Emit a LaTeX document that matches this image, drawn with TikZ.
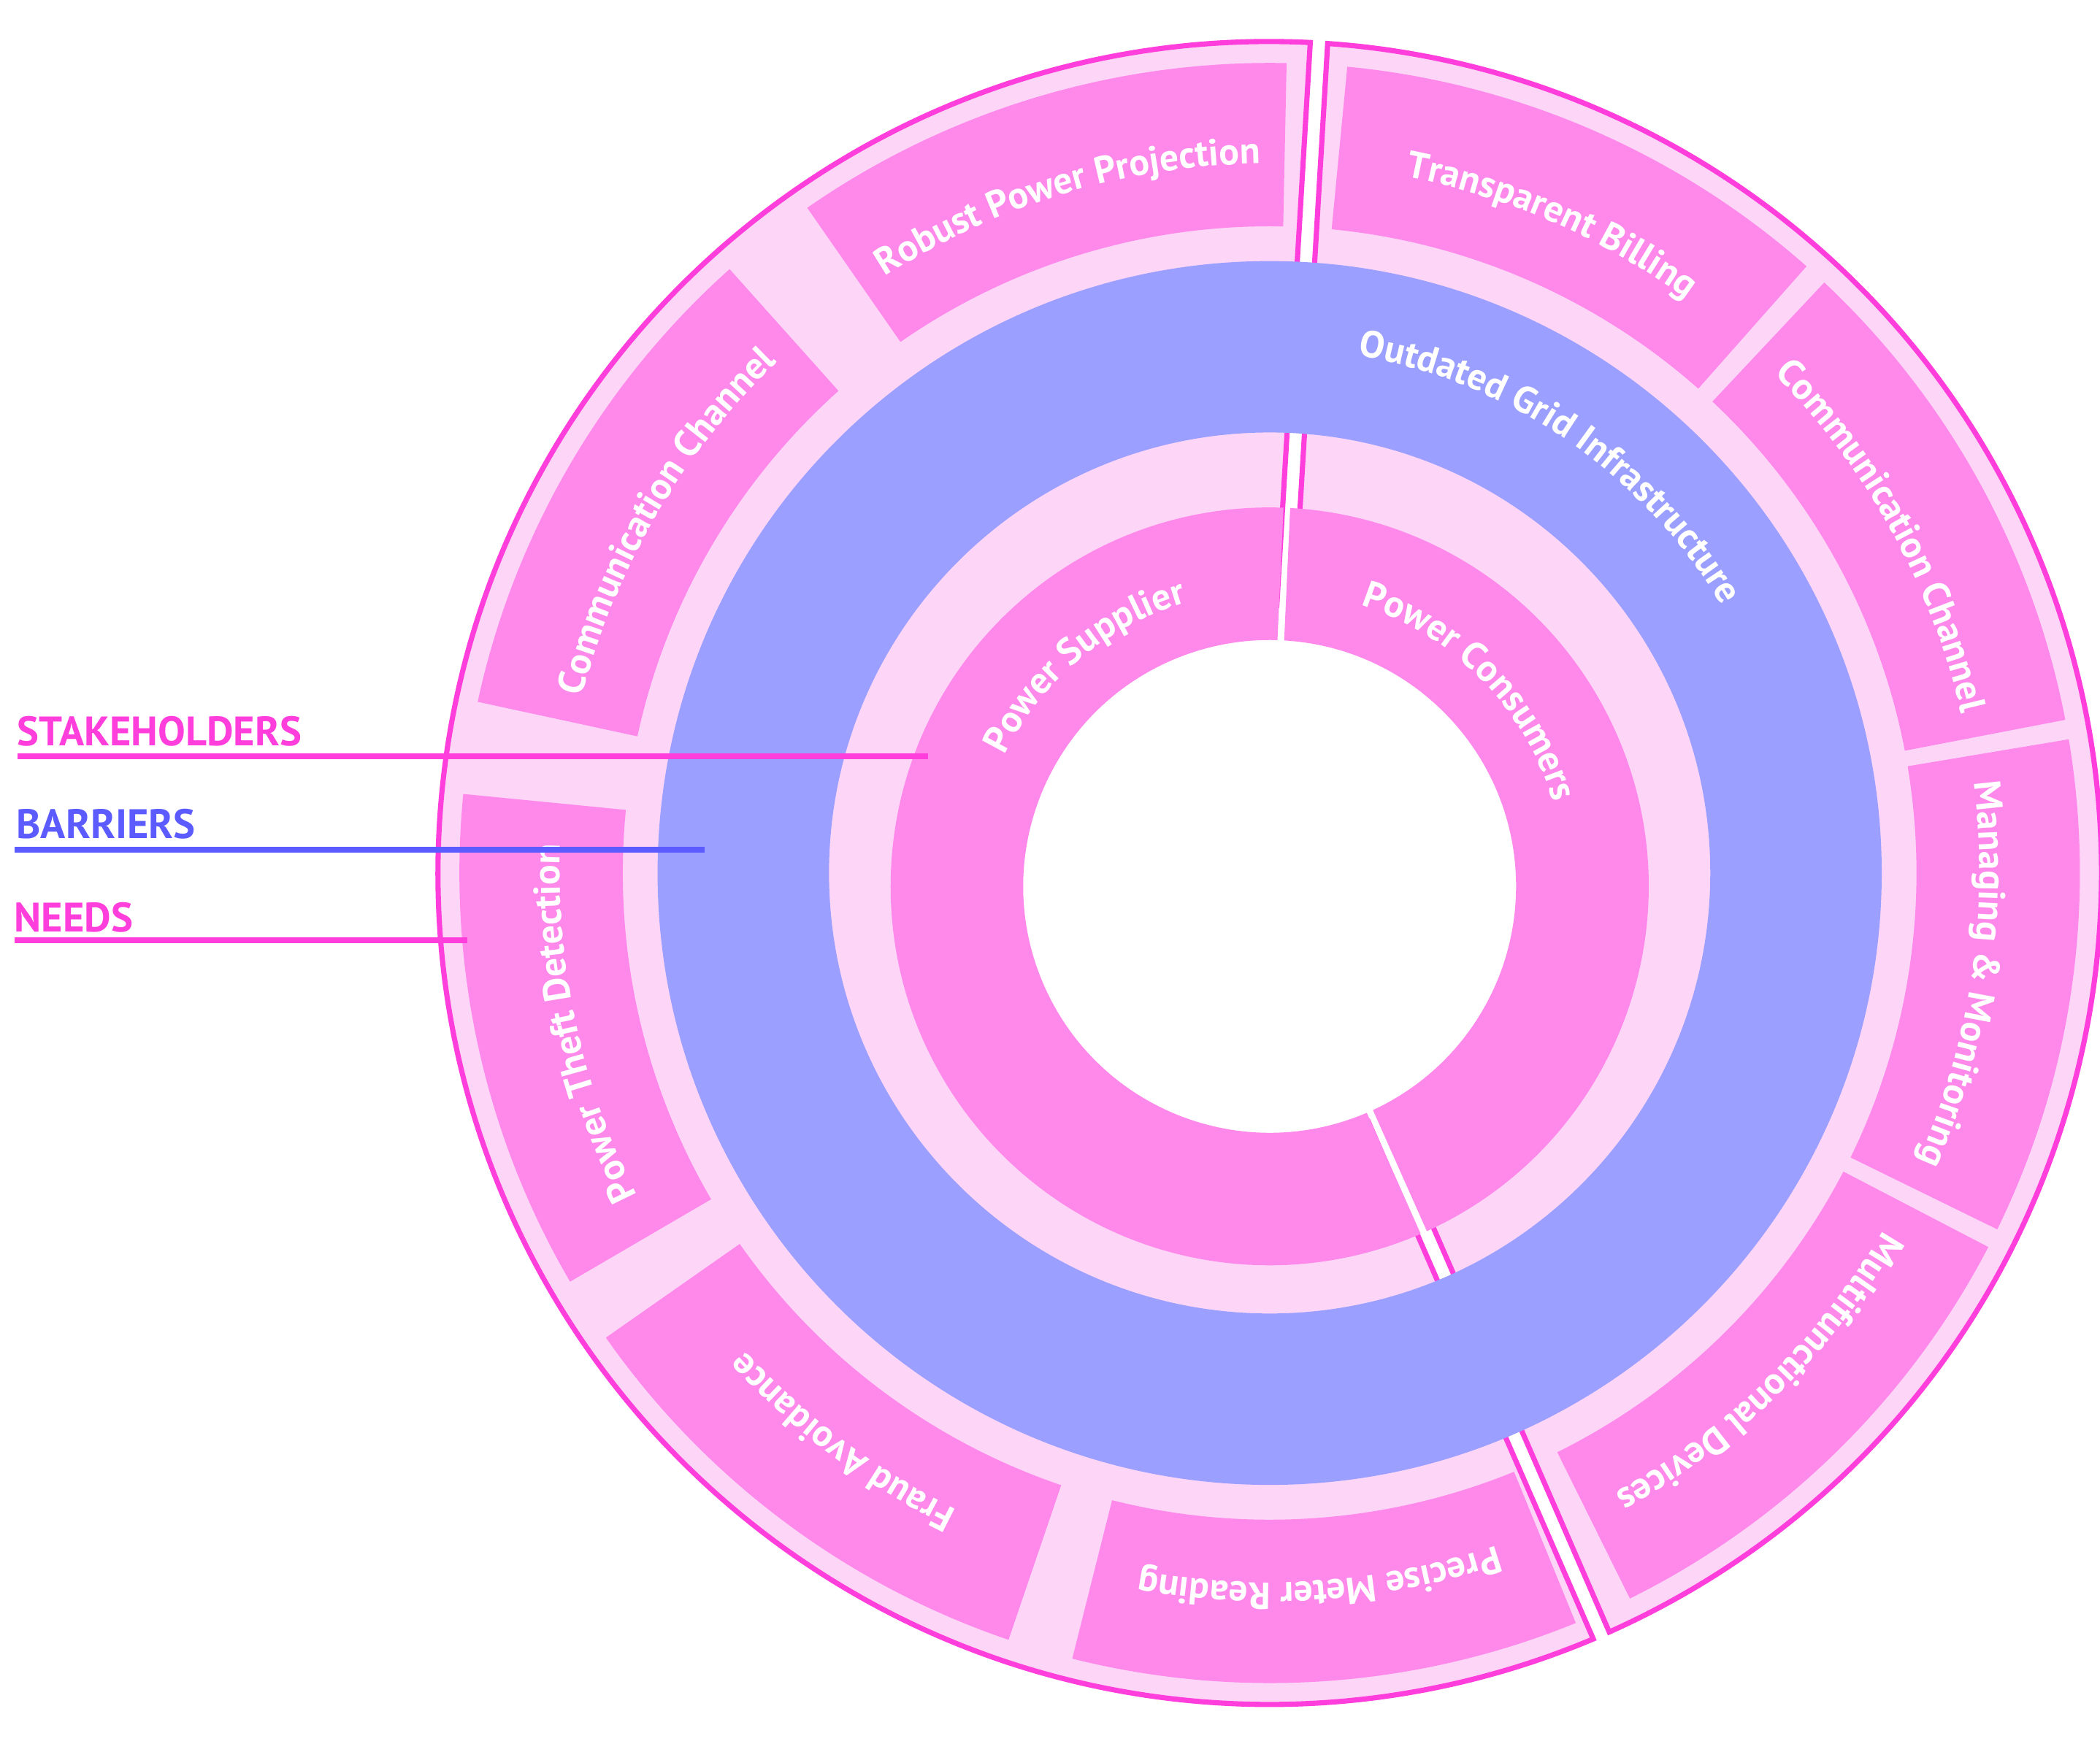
\documentclass[tikz,border=0pt]{standalone}
\usepackage{fontspec}
\setmainfont{PT Sans}
\usetikzlibrary{decorations.text}

\definecolor{framemagenta}{HTML}{FF3EDC}
\definecolor{needpink}{HTML}{FF89EB}
\definecolor{palepink}{HTML}{FDD6F7}
\definecolor{ringblue}{HTML}{9B9FFF}
\definecolor{barrierblue}{HTML}{5B5BFF}

\newcommand{\ringfont}{\fontsize{16}{18}\selectfont\bfseries}
\newcommand{\headfont}{\fontsize{17.5}{20}\selectfont\bfseries}

% annular sector, straight sides pulled in by a fixed width
\newcommand{\insetsector}[5]{%
  ({#1+asin(#5/#3)}:#3) -- ({#1+asin(#5/#4)}:#4)
  arc[start angle={#1+asin(#5/#4)}, end angle={#2-asin(#5/#4)}, radius=#4]
  -- ({#2-asin(#5/#3)}:#3)
  arc[start angle={#2-asin(#5/#3)}, end angle={#1+asin(#5/#3)}, radius=#3] -- cycle}

% white text bent along a clockwise arc
\newcommand{\arclabel}[3]{%
  \path[decorate, decoration={text along path, text align=center, text color=white,
      text={|\ringfont|#3}}]
    ({#1+40}:#2) arc[start angle={#1+40}, end angle={#1-40}, radius=#2];}

\begin{document}
\begin{tikzpicture}[
    groupframe/.style={fill=palepink, draw=framemagenta, line width=2.2pt},
    needbox/.style={fill=needpink},
    stakebox/.style={fill=needpink},
    legendline/.style={line width=2.5pt},
    legend/.style={font=\headfont, anchor=base west, inner sep=0pt},
]
\useasboundingbox (-18.96,-13.12) rectangle (12.4,13.04);
% ============================================================
% stakeholder groups: pale background + magenta frame
% ============================================================
\draw[groupframe] \insetsector{86.6}{293.5}{4.0}{12.42}{0.13};
\draw[groupframe] \insetsector{-66.5}{86.6}{4.0}{12.42}{0.13};
% --- barrier ring ---
\fill[ringblue, even odd rule] (0,0) circle[radius=9.14] (0,0) circle[radius=6.58];
% --- needs ---
\foreach \a/\b in {88.8/124.8, 131.8/167.8, 174.4/210.3, 215/251.2, 255.9/292.2,
                   -63.6/-27.5, -26.1/9.5, 10.9/46.8, 48.5/84.5}
    \fill[needbox] \insetsector{\a}{\b}{9.66}{12.10}{0};
% --- stakeholders (inner ring) ---
\begin{scope}[shift={(0,-0.2)}]
\fill[stakebox] \insetsector{87.4}{294}{3.68}{5.66}{0.05};
\fill[stakebox] \insetsector{-66}{87.4}{3.68}{5.66}{0.05};
\arclabel{130}{4.42}{Power Supplier}
\arclabel{44.3}{4.42}{Power Consumers}
\end{scope}
% ============================================================
% ring labels
% ============================================================
\arclabel{55.5}{7.84}{Outdated Grid Infrastructure}
\arclabel{106.8}{10.6}{Robust Power Projection}
\arclabel{149.8}{10.6}{Communication Channel}
\arclabel{192.35}{10.6}{Power Theft Detection}
\arclabel{233.1}{10.6}{Fraud Avoidance}
\arclabel{274.05}{10.6}{Precise Meter Reading}
\arclabel{-45.55}{10.6}{Multifunctional Devices}
\arclabel{-8.3}{10.6}{Managing {\&} Monitoring}
\arclabel{28.85}{10.6}{Communication Channel}
\arclabel{66.5}{10.6}{Transparent Billing}
% ============================================================
% legend on the left
% ============================================================
\node[legend, text=framemagenta] (stakeLabel) at (-18.71,1.9) {STAKEHOLDERS};
\node[legend, text=barrierblue] (barrierLabel) at (-18.72,0.52) {BARRIERS};
\node[legend, text=framemagenta] (needLabel) at (-18.75,-0.88) {NEEDS};
\coordinate (stakeFrom) at (-18.7,1.74);
\coordinate (stakeTo) at (-5.1,1.74);
\coordinate (barrierFrom) at (-18.74,0.35);
\coordinate (barrierTo) at (-8.44,0.35);
\coordinate (needFrom) at (-18.74,-1.0);
\coordinate (needTo) at (-11.98,-1.0);
\draw[legendline, framemagenta] (stakeFrom) -- (stakeTo);
\draw[legendline, barrierblue] (barrierFrom) -- (barrierTo);
\draw[legendline, framemagenta] (needFrom) -- (needTo);
\end{tikzpicture}
\end{document}
